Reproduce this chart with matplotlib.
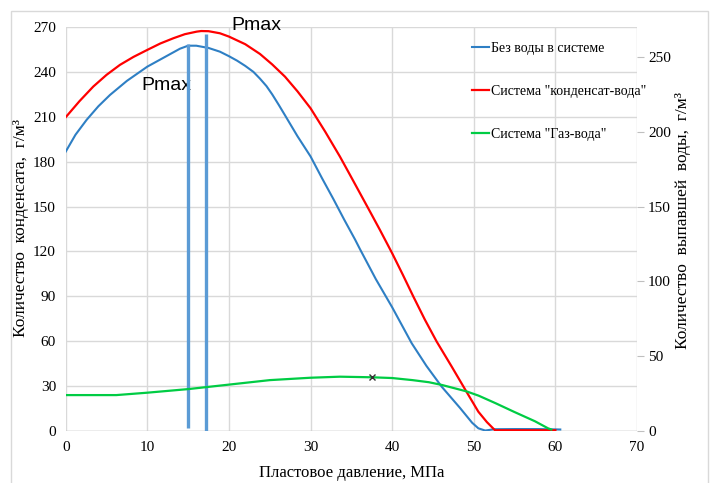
import matplotlib
matplotlib.use("Agg")
import matplotlib.pyplot as plt
from matplotlib.patches import Rectangle

# ---- data ----
p_blue = [0, 1.2, 2.57, 4, 5.43, 7.5, 10, 12.5, 14, 15, 16, 17.5, 18.9, 20, 21, 22, 23, 23.8,
          24.6, 25.3, 26.1, 26.87, 28.4, 30, 31.4, 32.8, 34.1, 35.45, 36.06, 38, 40, 42.4, 44.2,
          46.07, 48.3, 49.8, 50.56, 51.4, 52.5, 55, 58, 60.6]
blue = [186.7, 198, 208, 217, 224.6, 234, 243.5, 251, 255.5, 257.5, 257.5, 256, 253.5, 250.5,
        247.5, 244, 240, 235.5, 230.5, 225, 218, 211, 197, 183.5, 169, 155, 141.5, 128, 121.5,
        101.5, 82.7, 58.6, 43.5, 29.6, 15.5, 5.5, 1.8, 0.3, 1.2, 1.3, 1.3, 1.0]

p_red = [0, 1.7, 3.38, 5, 6.65, 8.3, 10, 11.6, 13.2, 14.6, 16.05, 16.6, 17.5, 18.9, 20, 22, 23.8,
         25.3, 26.87, 28.4, 30, 31.8, 33.6, 34.8, 36.06, 37.3, 38.5, 40, 41.3, 42.6, 44, 45.46,
         47.3, 49.1, 50.56, 51.6, 52.6, 55, 60]
red = [209.7, 220.5, 230.2, 238, 244.7, 250, 254.7, 259, 262.5, 265.2, 266.9, 267.3, 267.2, 265.8,
       263.6, 258.5, 252, 245, 236.8, 227, 215.7, 200, 183.4, 171.5, 158.9, 146.5, 134.4, 118.8,
       104.5, 89.8, 74.5, 59.7, 43, 26.3, 12.9, 6, 0.5, 0.5, 0.5]

p_green = [0, 3, 6.2, 10, 15, 20, 25, 30, 33.6, 37.5, 40, 42.5, 44.5, 46.07, 49.1, 50.6, 52.7,
           54.9, 57.5, 59.1, 59.5]
green = [24, 24, 24, 25.6, 28, 31, 34, 35.6, 36.3, 35.9, 35.4, 34, 32.6, 30.8, 26.5, 23.6, 18.5,
         12.9, 6.5, 1.8, 1.0]

pmax_x = [14.95, 17.2]
pmax_top = [258.5, 265.5]
pmax_bottom = [2, 0]

marker_x = [37.5]
marker_y = [35.9]

x_ticks = [0, 10, 20, 30, 40, 50, 60, 70]
left_ticks = [0, 30, 60, 90, 120, 150, 180, 210, 240, 270]
right_ticks = [0, 50, 100, 150, 200, 250]

labels = ["Без воды в системе", 'Система "конденсат-вода"', 'Система "Газ-вода"']

# ---- figure ----
serif = "Liberation Serif"
fig = plt.figure(figsize=(7.12, 4.83), dpi=100)
ax = fig.add_axes([65.7 / 712, 1 - 431 / 483, (637 - 65.7) / 712, (431 - 27) / 483])
ax2 = ax.twinx()

grid_c = "#d9d9d9"
ax.set_xlim(0, 70)
ax.set_ylim(0, 270)
ax2.set_ylim(0, 270)
ax.set_xticks(x_ticks)
ax.set_yticks(left_ticks)
ax2.set_yticks(right_ticks)
ax.grid(True, color=grid_c, linewidth=1.0)
ax.set_axisbelow(True)
for a in (ax, ax2):
    for s in a.spines.values():
        s.set_visible(False)
ax.axhline(0, color="#bfbfbf", linewidth=1.0, zorder=1)

ax.tick_params(axis="both", length=0, labelsize=11, colors="#000000", pad=7)
for lab in ax.get_xticklabels() + ax.get_yticklabels():
    lab.set_fontfamily(serif)
ax2.tick_params(axis="y", length=5, color="#bfbfbf", labelsize=11, pad=3)
for lab in ax2.get_yticklabels():
    lab.set_fontfamily(serif)

lb, = ax.plot(p_blue, blue, color="#2e7fc4", linewidth=1.5, zorder=3)
lr, = ax.plot(p_red, red, color="#ff0000", linewidth=1.6, zorder=3)
lg, = ax2.plot(p_green, green, color="#00cc44", linewidth=1.6, zorder=3)
ax2.plot(marker_x, marker_y, marker="x", color="#333333", markersize=5, linestyle="none", zorder=4)

for x, yb, yt in zip(pmax_x, pmax_bottom, pmax_top):
    ax.plot([x, x], [yb, yt], color="#5b9bd5", linewidth=2.4, zorder=4, solid_capstyle="butt")

ax.text(12.3, 231, "Pmax", fontsize=14, family="Liberation Sans", ha="center", va="center")
ax.text(23.4, 271, "Pmax", fontsize=14, family="Liberation Sans", ha="center", va="center", clip_on=False)

leg = ax2.legend([lb, lr, lg], labels, loc="upper left", bbox_to_anchor=(0.711, 0.962),
                 frameon=False, handlelength=1.2, handletextpad=0.15, labelspacing=2.15,
                 borderpad=0, borderaxespad=0,
                 prop={"family": serif, "size": 10})

ax.set_xlabel("Пластовое давление, МПа", fontsize=12, family=serif, labelpad=8)
ax.set_ylabel("Количество  конденсата,  г/м³", fontsize=12.5, family=serif)
ax2.set_ylabel("Количество  выпавшей  воды,  г/м³", fontsize=12.5, family=serif)
ax.yaxis.set_label_coords(-0.064, 0.502)
ax2.yaxis.set_label_coords(1.0665, 0.52)

fig.patches.append(Rectangle((11 / 712, -0.01), (708 - 11) / 712, 1 - 11 / 483 + 0.01,
                             transform=fig.transFigure, fill=False, edgecolor="#d9d9d9",
                             linewidth=1.0, zorder=0))

fig.savefig("out.png", dpi=100)
